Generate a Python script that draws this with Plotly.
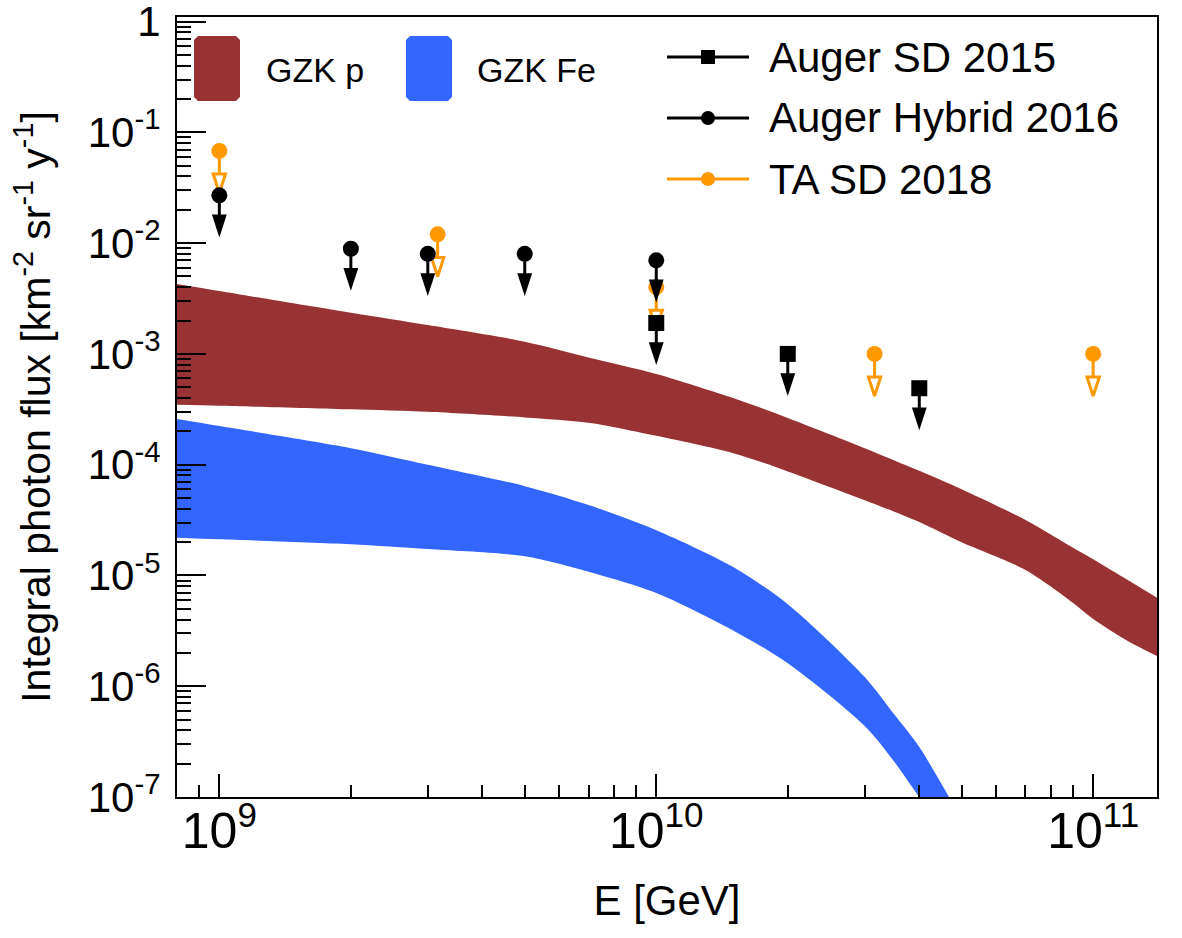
import numpy as np
import plotly.graph_objects as go

# ---------------- data ----------------
# GZK proton band (E in GeV, integral flux km^-2 sr^-1 yr^-1)
E_p = [8e8, 1e9, 2e9, 3e9, 5e9, 7e9, 1e10, 1.5e10, 2e10, 3e10, 4e10, 5e10,
       7e10, 9e10, 1e11, 1.2e11, 1.4e11]
gzk_p_hi = [4.27e-3, 3.69e-3, 2.35e-3, 1.82e-3, 1.29e-3, 9.3e-4, 6.6e-4, 4.0e-4,
            2.64e-4, 1.41e-4, 8.8e-5, 6.0e-5, 3.17e-5, 1.78e-5, 1.40e-5, 9.1e-6, 6.3e-6]
gzk_p_lo = [3.47e-4, 3.40e-4, 3.16e-4, 3.0e-4, 2.67e-4, 2.39e-4, 1.82e-4, 1.27e-4,
            8.7e-5, 4.78e-5, 3.04e-5, 1.99e-5, 1.12e-5, 5.65e-6, 4.05e-6, 2.56e-6, 1.87e-6]

# GZK iron band
E_fe = [8e8, 1e9, 2e9, 3e9, 5e9, 7e9, 1e10, 1.5e10, 2e10, 3e10, 3.5e10, 4e10, 5e10]
gzk_fe_hi = [2.58e-4, 2.23e-4, 1.41e-4, 1.0e-4, 6.4e-5, 4.33e-5, 2.56e-5, 1.19e-5,
             5.5e-6, 1.21e-6, 5.6e-7, 2.82e-7, 6.3e-8]
gzk_fe_lo = [2.19e-5, 2.12e-5, 1.91e-5, 1.73e-5, 1.49e-5, 1.08e-5, 6.95e-6, 3.19e-6,
             1.61e-6, 4.37e-7, 2.1e-7, 1.0e-7, 3.2e-8]

# upper limits
auger_sd_E = [1e10, 2e10, 4e10]
auger_sd = [1.9e-3, 1.0e-3, 4.9e-4]
auger_hy_E = [1e9, 2e9, 3e9, 5e9, 1e10]
auger_hy = [2.7e-2, 8.9e-3, 8.0e-3, 8.0e-3, 7.0e-3]
ta_E = [1e9, 3.16e9, 1e10, 3.16e10, 1e11]
ta = [6.8e-2, 1.2e-2, 4.0e-3, 1.0e-3, 1.0e-3]

# y tick labels
y_tick_exp = [-7, -6, -5, -4, -3, -2, -1, 0]
y_tick_text = ["10<sup>-7</sup>", "10<sup>-6</sup>", "10<sup>-5</sup>", "10<sup>-4</sup>",
               "10<sup>-3</sup>", "10<sup>-2</sup>", "10<sup>-1</sup>", "1"]

RED = "#993333"
BLUE = "#3366ff"
ORANGE = "#ff9900"
FONT = "Liberation Sans, Arial, Helvetica, sans-serif"

# plot-area geometry in pixels
L, R, T, B = 177, 1157, 17, 797
W, H = 1182, 938

ARROW_DEC = 0.38   # tip below marker (decades)
HEAD_DEC = 0.17    # arrow head height (decades)

fig = go.Figure()


def band(E, hi, lo, color):
    fig.add_trace(go.Scatter(x=E, y=lo, mode="lines",
                             line=dict(width=0, color=color, shape="spline", smoothing=0.8),
                             hoverinfo="skip", showlegend=False))
    fig.add_trace(go.Scatter(x=E, y=hi, mode="lines", fill="tonexty", fillcolor=color,
                             line=dict(width=0, color=color, shape="spline", smoothing=0.8),
                             hoverinfo="skip", showlegend=False))


band(E_p, gzk_p_hi, gzk_p_lo, RED)
band(E_fe, gzk_fe_hi, gzk_fe_lo, BLUE)


def limits(E, v, color, symbol, open_head, name):
    E = np.array(E, dtype=float)
    v = np.array(v, dtype=float)
    tip = v * 10 ** (-ARROW_DEC)
    base = tip * 10 ** (HEAD_DEC)
    xs, ys = [], []
    for e, a, b in zip(E, v, base):
        xs += [e, e, None]
        ys += [a, b, None]
    fig.add_trace(go.Scatter(x=xs, y=ys, mode="lines", line=dict(color=color, width=3),
                             hoverinfo="skip", showlegend=False))
    if open_head:
        mk = dict(symbol="arrow-open", angle=180, size=20, color=color,
                  line=dict(color=color, width=3))
    else:
        mk = dict(symbol="arrow", angle=180, size=24, color=color,
                  line=dict(color=color, width=0))
    fig.add_trace(go.Scatter(x=E, y=tip, mode="markers", marker=mk,
                             hoverinfo="skip", showlegend=False))
    fig.add_trace(go.Scatter(x=E, y=v, mode="markers", name=name,
                             marker=dict(symbol=symbol, size=16, color=color,
                                         line=dict(width=0)),
                             showlegend=False))


limits(ta_E, ta, ORANGE, "circle", True, "TA SD 2018")
limits(auger_hy_E, auger_hy, "black", "circle", False, "Auger Hybrid 2016")
limits(auger_sd_E, auger_sd, "black", "square", False, "Auger SD 2015")


# ---------------- legends (paper coords from pixels) ----------------
def px(x):
    return (x - L) / (R - L)


def py(y):
    return (B - y) / (B - T)


shapes = []
annotations = []


def box(x0, y0, x1, y1, color, c=4):
    path = (f"M{px(x0 + c)},{py(y0)} L{px(x1 - c)},{py(y0)} L{px(x1)},{py(y0 + c)} "
            f"L{px(x1)},{py(y1 - c)} L{px(x1 - c)},{py(y1)} L{px(x0 + c)},{py(y1)} "
            f"L{px(x0)},{py(y1 - c)} L{px(x0)},{py(y0 + c)} Z")
    shapes.append(dict(type="path", xref="paper", yref="paper", path=path,
                       fillcolor=color, line=dict(width=0), layer="above"))


box(194, 36, 240, 101, RED)
box(406, 36, 452, 101, BLUE)
annotations.append(dict(x=px(264), y=py(70), xref="paper", yref="paper", text="GZK p",
                        showarrow=False, xanchor="left", yanchor="middle",
                        font=dict(size=34, family=FONT, color="black")))
annotations.append(dict(x=px(475), y=py(70), xref="paper", yref="paper", text="GZK Fe",
                        showarrow=False, xanchor="left", yanchor="middle",
                        font=dict(size=34, family=FONT, color="black")))

rows = [("Auger SD 2015", "black", "square", 57),
        ("Auger Hybrid 2016", "black", "circle", 118),
        ("TA SD 2018", ORANGE, "circle", 179)]
for label, col, sym, yy in rows:
    shapes.append(dict(type="line", xref="paper", yref="paper",
                       x0=px(667), x1=px(749), y0=py(yy), y1=py(yy),
                       line=dict(color=col, width=3), layer="above"))
    r = 7
    shapes.append(dict(type="rect" if sym == "square" else "circle",
                       xref="paper", yref="paper",
                       x0=px(708 - r), x1=px(708 + r), y0=py(yy - r), y1=py(yy + r),
                       fillcolor=col, line=dict(width=0), layer="above"))
    annotations.append(dict(x=px(767), y=py(yy), xref="paper", yref="paper", text=label,
                            showarrow=False, xanchor="left", yanchor="middle",
                            font=dict(size=42, family=FONT, color="black")))

axis_common = dict(
    type="log", showgrid=False, zeroline=False,
    showline=True, linecolor="black", linewidth=2, mirror=True,
    ticks="inside", tickcolor="black", tickwidth=1.5,
    ticklabeloverflow="allow",
)

y_minor_vals = [d * 10.0 ** k for k in range(-7, 0) for d in range(2, 10)]

fig.update_layout(
    width=W, height=H,
    margin=dict(l=L, r=W - R, t=T, b=H - B),
    plot_bgcolor="white", paper_bgcolor="white",
    showlegend=False,
    font=dict(family=FONT, color="black"),
    shapes=shapes, annotations=annotations,
    xaxis=dict(axis_common, range=[np.log10(8e8), np.log10(1.4e11)], ticklen=23,
               dtick=1, exponentformat="power",
               tickfont=dict(size=40, family=FONT, color="black"),
               ticklabelstandoff=-9,
               minor=dict(ticks="inside", ticklen=12, dtick="D1", tickcolor="black",
                          tickwidth=1.5, showgrid=False),
               title=dict(text="E [GeV]", font=dict(size=42, family=FONT), standoff=28),
               automargin=False),
    yaxis=dict(axis_common, range=[-7, np.log10(1.1)], ticklen=29,
               tickmode="array", tickvals=[10.0 ** e for e in y_tick_exp], ticktext=y_tick_text,
               tickfont=dict(size=42, family=FONT, color="black"),
               minor=dict(ticks="inside", ticklen=14, tickmode="array", tickvals=y_minor_vals,
                          tickcolor="black", tickwidth=1.5, showgrid=False),
               ticklabelstandoff=6,
               title=dict(text="Integral photon flux [km<sup>-2</sup> sr<sup>-1</sup> y<sup>-1</sup>]",
                          font=dict(size=41, family=FONT), standoff=24),
               automargin=False),
)

fig.write_html("out.html")
